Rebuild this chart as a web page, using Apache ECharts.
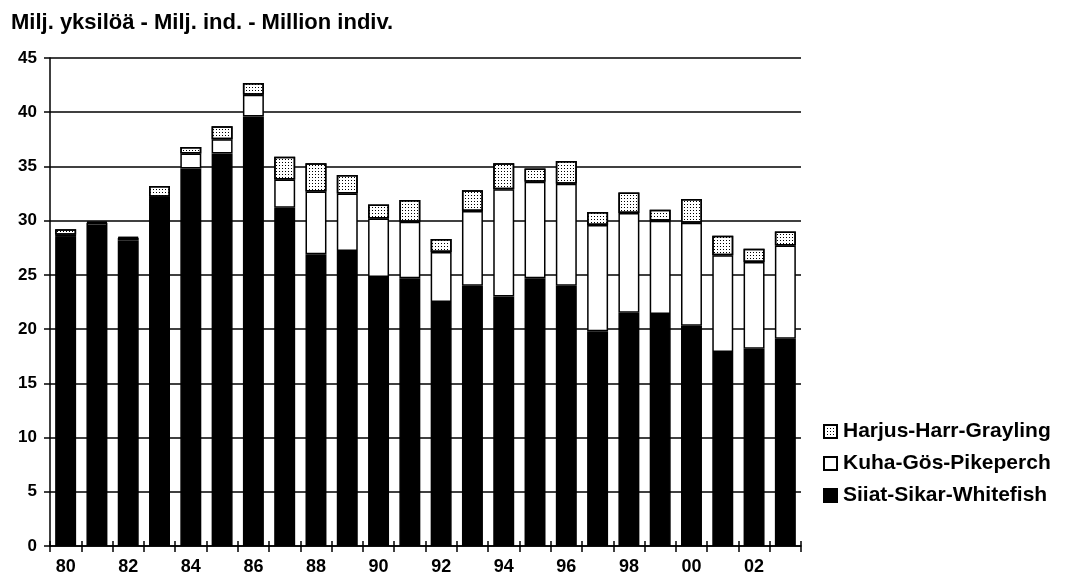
<!DOCTYPE html>
<html>
<head>
<meta charset="utf-8">
<script src="https://cdn.jsdelivr.net/npm/echarts@6/dist/echarts.min.js"></script>
<style>html,body{margin:0;padding:0;background:#fff}#c{width:1068px;height:582px}</style>
</head>
<body>
<div id="c"></div>
<script>
const years = ['80','81','82','83','84','85','86','87','88','89','90','91','92','93','94','95','96','97','98','99','00','01','02','03'];
const whitefish = [28.5,29.5,28.2,32.0,34.8,36.2,39.6,31.2,26.9,27.2,24.8,24.7,22.5,24.0,23.0,24.7,24.0,19.8,21.5,21.4,20.3,17.9,18.2,19.1];
const pikeperch = [0.2,0.3,0.2,0.2,1.4,1.3,2.0,2.6,5.8,5.3,5.4,5.2,4.6,6.9,9.9,8.9,9.4,9.8,9.2,8.6,9.5,8.9,8.0,8.6];
const grayling  = [0.5,0.1,0.1,1.0,0.6,1.2,1.1,2.1,2.6,1.7,1.3,2.0,1.2,1.9,2.4,1.2,2.1,1.2,1.9,1.0,2.2,1.8,1.2,1.3];
const yTicks = [0,5,10,15,20,25,30,35,40,45];
const names = ['Siiat-Sikar-Whitefish','Kuha-Gös-Pikeperch','Harjus-Harr-Grayling'];
const title = 'Milj. yksilöä - Milj. ind. - Million indiv.';

const font = 'Liberation Sans, Arial, sans-serif';
const chart = echarts.init(document.getElementById('c'));
const decal = {color:'#000', symbol:'rect', symbolSize:1, dashArrayX:[[1,2]], dashArrayY:[1,2], rotation:0};
const baseStyle = {borderColor:'#000', borderWidth:1.5};
chart.setOption({
  animation:false,
  backgroundColor:'#fff',
  title:{text:title, left:6, top:7, textStyle:{fontFamily:font, fontSize:22, fontWeight:'bold', color:'#000'}},
  legend:{
    orient:'vertical', left:818, top:416, itemGap:11, itemWidth:13, itemHeight:13,
    data:[names[2],names[1],names[0]],
    textStyle:{fontFamily:font, fontSize:21, fontWeight:'bold', color:'#000', padding:[0,0,0,1]},
    icon:'rect'
  },
  grid:{left:50, right:267, top:58, bottom:36, containLabel:false},
  xAxis:[{
    type:'category', data:years, position:'bottom',
    axisLine:{lineStyle:{color:'#000', width:1.5}},
    axisTick:{show:true, interval:0, length:6, lineStyle:{color:'#000', width:1.5}},
    axisLabel:{interval:1, fontFamily:font, fontSize:18, fontWeight:'bold', color:'#000', margin:12}
  },{
    type:'category', data:years, position:'bottom', offset:0,
    axisLine:{show:false},
    axisTick:{show:true, inside:true, interval:0, length:5, lineStyle:{color:'#000', width:1.5}},
    axisLabel:{show:false}
  }],
  yAxis:{
    type:'value', min:yTicks[0], max:yTicks[yTicks.length-1], interval:5,
    axisLine:{show:true, lineStyle:{color:'#000', width:1.5}},
    axisTick:{show:true, length:6, lineStyle:{color:'#000', width:1.5}},
    axisLabel:{fontFamily:font, fontSize:17, fontWeight:'bold', color:'#000', margin:13},
    splitLine:{show:true, lineStyle:{color:'#000', width:1.5}}
  },
  series:[
    {name:names[0], type:'bar', stack:'s', data:whitefish, barCategoryGap:'33%', itemStyle:Object.assign({color:'#000'},baseStyle)},
    {name:names[1], type:'bar', stack:'s', data:pikeperch, itemStyle:Object.assign({color:'#fff'},baseStyle)},
    {name:names[2], type:'bar', stack:'s', data:grayling, itemStyle:Object.assign({color:'#fff', decal:decal},baseStyle)}
  ]
});
</script>
</body>
</html>
